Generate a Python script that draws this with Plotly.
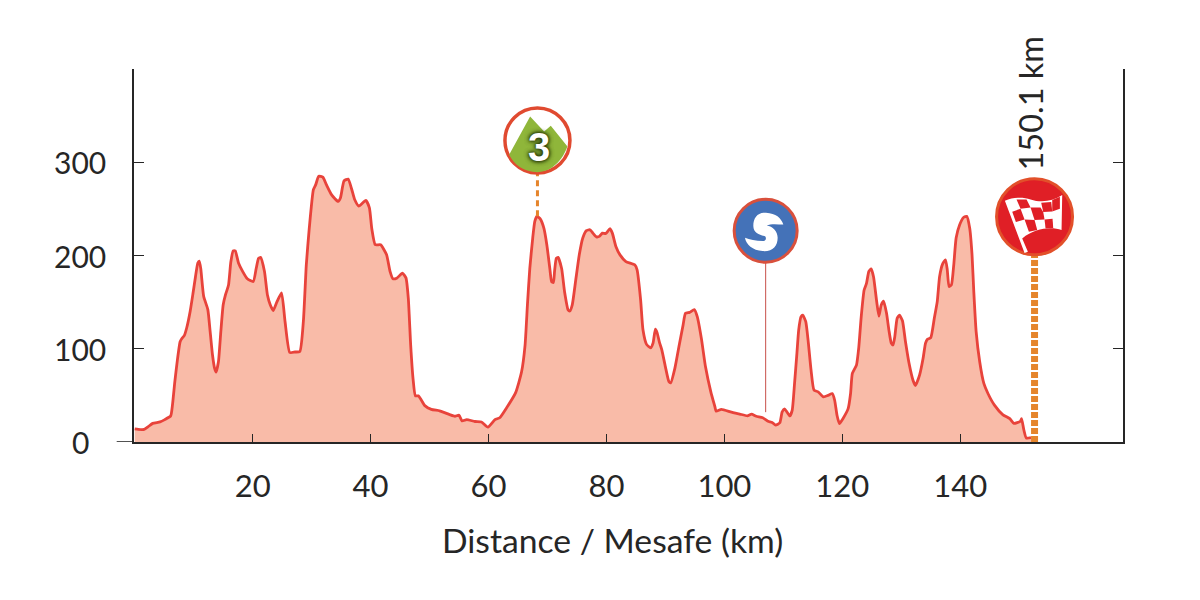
"""Stage elevation profile with climb, sprint and finish markers."""
import plotly.graph_objects as go

# profile
km = [0.0, 0.6, 1.6, 2.3, 3.05, 4.3, 5.1, 6.1, 6.4, 6.8, 7.2, 7.7, 8.0, 8.4, 8.8, 9.4, 9.9, 10.3, 10.7, 10.95,
      11.2, 11.7, 12.4, 12.8, 13.2, 13.55, 13.8, 14.2, 14.6, 15.0, 15.4, 15.9, 16.3, 16.7, 17.05, 17.6, 18.3, 19.1,
      20.1, 20.6, 21.0, 21.35, 22.0, 22.5, 23.0, 23.5, 24.1, 24.9, 25.5, 26.3, 27.2, 28.0, 28.6, 29.1, 29.6, 30.3,
      30.7, 31.2, 31.9, 32.5, 33.4, 34.5, 34.9, 35.5, 36.2, 36.8, 37.3, 38.0, 39.2, 39.8, 40.2, 40.8, 41.7, 42.7,
      43.3, 43.8, 44.5, 45.4, 46.0, 46.4, 46.8, 47.2, 47.6, 48.1, 48.6, 49.2, 50.3, 51.7, 53.4, 54.3, 55.0, 55.5,
      56.3, 57.7, 58.8, 59.9, 61.1, 61.9, 63.0, 64.6, 65.6, 66.2, 66.6, 67.0, 67.5, 67.85, 68.2, 68.8, 69.4, 69.9,
      70.4, 70.7, 71.0, 71.2, 71.5, 71.8, 72.4, 72.9, 73.5, 73.8, 74.2, 74.8, 75.4, 76.0, 76.6, 77.2, 77.7, 78.3,
      78.8, 79.3, 79.9, 80.6, 81.0, 81.6, 82.3, 83.3, 84.8, 85.2, 85.8, 86.2, 86.8, 87.5, 87.9, 88.3, 88.6, 89.0,
      89.4, 90.0, 90.6, 90.9, 91.6, 92.4, 93.0, 93.4, 94.1, 94.9, 95.4, 96.1, 96.8, 97.7, 98.4, 98.6, 99.5, 101.2,
      102.6, 103.9, 104.6, 105.4, 106.5, 107.4, 108.1, 108.7, 109.4, 109.8, 110.2, 110.6, 111.1, 111.5, 111.9,
      112.3, 112.6, 113.0, 113.3, 113.8, 114.2, 114.7, 115.2, 115.9, 116.8, 117.6, 118.3, 118.7, 119.1, 119.5,
      120.1, 121.0, 121.4, 121.7, 122.4, 122.8, 123.2, 123.7, 124.1, 124.5, 124.9, 125.3, 125.8, 126.2, 126.6,
      127.0, 127.5, 127.9, 128.3, 128.6, 128.9, 129.3, 129.7, 130.2, 130.7, 131.3, 132.0, 132.4, 133.1, 133.7,
      134.1, 134.4, 135.0, 135.6, 136.1, 136.5, 137.0, 137.5, 137.8, 138.1, 138.5, 138.9, 139.3, 139.9, 140.6,
      141.1, 141.6, 142.0, 142.3, 142.7, 143.3, 144.0, 144.7, 145.8, 147.2, 148.4, 149.1, 150.2, 150.4, 150.8,
      151.2, 152.0]
elevation = [14, 13.5, 13.5, 16.5, 20, 21.5, 24, 28, 39.5, 64.5, 86, 107.5, 111, 114, 122, 140, 160, 177, 192, 194,
             186, 156, 142, 118, 93, 79, 75, 86, 118, 147, 158, 168, 193, 205, 205, 192, 183, 175,
             172, 186, 197, 198, 183, 158, 147, 141, 150, 160, 129, 96, 96.5, 97, 129, 190, 229, 270.6,
             276, 285, 284, 276, 265, 258, 262, 280, 282, 271, 260, 253, 259, 251, 229, 211.5, 211.5, 201,
             183, 175, 176, 181, 176, 154, 104, 68, 49.5, 49.5, 45, 39, 35, 33.4, 29.4, 27.6, 28.7, 22.6,
             24, 22, 21.5, 16, 24, 26, 36, 53, 75, 104, 147, 186, 219, 236.6, 242, 239, 229, 211,
             186, 172, 171, 183, 197, 198, 186, 161, 141.6, 140.5, 147, 174, 201, 219, 226.6, 227.6, 224, 220,
             220.5, 224, 223.6, 228.7, 224, 209.7, 200.7, 193.5, 190, 184.6, 152, 120, 104.7, 101, 106, 121, 117, 106.6,
             98.6, 80.6, 64.6, 63.4, 79, 106, 125.5, 138, 139, 142, 134.4, 111, 80.6, 53.8, 37.6, 33, 35, 32,
             30, 28, 29.8, 27.6, 26, 22.3, 21, 18, 20.6, 32.4, 35.5, 32.4, 28, 34, 62.8,
             95, 120, 134.4, 136, 129, 109, 77, 55.6, 53.8, 48.4, 50, 52, 44.8, 28.7, 19.8,
             25, 36, 52, 73.5, 82.5, 102, 134, 163, 170, 183, 185.7, 177, 152, 135, 147,
             151, 138, 120, 106, 104, 113, 132.7, 136, 130, 108, 85, 66, 60.6, 71.7, 89.7,
             105.8, 110, 112, 132.7, 150.5, 177.4, 190.7, 195.4, 184.6, 166.7, 168.5, 190, 218.7, 233, 241,
             242, 229.5, 200.7, 161, 118, 86, 62.8, 52, 39.5, 29.4, 25, 20, 22.3, 25, 12.6,
             4.3, 4.7]

x_ticks = [20, 40, 60, 80, 100, 120, 140]
y_ticks = [0, 100, 200, 300]
distance_label = "150.1 km"
x_title = "Distance / Mesafe (km)"

# marker positions: km, stem foot/top, circle centre
climb = (68.3, 242, 323.3)
sprint = (107.0, 32, 226.5)
finish = (152.6, 0, 241.6)

FONT = "Lato"
INK = "#262626"
FILL = "#f9bba8"
RED = "#e8433b"
ORANGE = "#e5852c"


def icon(d, origin, km_pos, elev, fill):
    """Path drawn in 3x zoom pixels around origin, pinned to a data point."""
    parts = []
    for seg in d.split(" "):
        if seg.isalpha():
            parts.append(seg)
        else:
            px, py = seg.split(",")
            parts.append(f"{(float(px) - origin[0]) / 3:.2f},{(origin[1] - float(py)) / 3:.2f}")
    return dict(type="path", path=" ".join(parts), xsizemode="pixel", ysizemode="pixel", xanchor=km_pos, yanchor=elev,
                xref="x", yref="y", fillcolor=fill, line=dict(width=0), layer="above")


fig = go.Figure()
fig.add_trace(go.Scatter(x=km, y=elevation, mode="lines", fill="tozeroy", fillcolor=FILL,
                         line=dict(color=RED, width=2.8, shape="spline", smoothing=0.5)))
fig.add_trace(go.Scatter(x=[climb[0], climb[0]], y=[climb[1], climb[2]], mode="lines",
                         line=dict(color=ORANGE, width=3, dash="6px,4px")))
fig.add_trace(go.Scatter(x=[sprint[0], sprint[0]], y=[sprint[1], sprint[2]], mode="lines",
                         line=dict(color="#c8504a", width=1)))
fig.add_trace(go.Scatter(x=[finish[0], finish[0]], y=[finish[1], finish[2]], mode="lines",
                         line=dict(color=ORANGE, width=7, dash="6px,2px")))
fig.add_trace(go.Scatter(x=[climb[0]], y=[climb[2]], mode="markers",
                         marker=dict(size=65, color="white", line=dict(color="#e04a30", width=3.5))))
fig.add_trace(go.Scatter(x=[sprint[0]], y=[sprint[2]], mode="markers",
                         marker=dict(size=63, color="#4472b8", line=dict(color="#d9503c", width=3))))
fig.add_trace(go.Scatter(x=[finish[0]], y=[finish[2]], mode="markers",
                         marker=dict(size=76, color="#e01f26", line=dict(color="#e2502a", width=3))))

shapes = [
    # baseline runs past the left axis
    dict(type="line", xref="paper", yref="y", x0=-0.0175, x1=0, y0=0, y1=0, line=dict(color=INK, width=1.6)),
    # mountain
    icon("M 90,195 L 153,80 L 195,125 L 215,108 L 265,170 C 245,225 205,247 175,247 C 135,247 105,225 90,195 Z",
         (175, 152), climb[0], climb[2], "#8fb63a"),
    # sprint S
    icon("M 912,405 C 905,385 890,372 860,370 C 835,368 822,385 822,410 C 822,430 840,437 855,440 "
         "C 862,442 862,455 850,455 C 830,455 810,450 797,445 C 800,465 820,483 850,485 "
         "C 880,487 895,470 895,445 C 895,425 880,410 862,408 C 875,402 895,405 912,405 Z",
         (859, 424), sprint[0], sprint[2], "white"),
    # finish flag
    icon("M 33,72 C 60,60 90,62 110,68 C 140,78 175,75 205,55 L 203,160 C 175,150 125,152 85,185 "
         "L 102,225 L 92,229 Z", (122, 120), finish[0], finish[2], "white"),
]
for quad in [
    "M 68,68 L 98,68 L 110,92 L 80,96 Z",
    "M 142,78 L 172,76 L 175,104 L 148,106 Z",
    "M 110,92 L 140,92 L 148,106 L 152,128 L 122,130 Z",
    "M 55,105 L 80,96 L 92,128 L 66,136 Z",
    "M 175,70 L 198,60 L 198,96 L 175,104 Z",
    "M 92,128 L 122,130 L 130,160 L 105,165 Z",
    "M 152,128 L 176,126 L 178,154 L 155,155 Z",
]:
    shapes.append(icon(quad, (122, 120), finish[0], finish[2], "#e01f26"))

annotations = [
    dict(x=climb[0], y=climb[2], xref="x", yref="y", text="3", showarrow=False, yshift=-6, xshift=1.5,
         font=dict(family="Liberation Sans", size=40, color="white", weight="bold",
                   shadow="0 0 5px #2c3f08, 0 0 5px #2c3f08, 0 0 3px #2c3f08")),
    dict(x=finish[0], y=289, xref="x", yref="y", text=distance_label, showarrow=False, textangle=-90,
         yanchor="bottom", xshift=-5, font=dict(family=FONT, size=32.5, color=INK)),
    dict(x=(612.5 - 134) / 989.5, y=(441.7 - 540) / 372.7, xref="paper", yref="paper", text=x_title, showarrow=False,
         xanchor="center", yanchor="middle", font=dict(family=FONT, size=33.7, color=INK)),
]
for v in y_ticks:
    annotations.append(dict(x=(80 - 134) / 989.5, y=v, xref="paper", yref="y", text=str(v), showarrow=False,
                            xanchor="center", font=dict(family=FONT, size=30, color=INK)))

# page body adds 8px around the figure, so the figure is kept 16px short of the window
fig.update_layout(
    width=1184, height=584, showlegend=False, plot_bgcolor="white", paper_bgcolor="white",
    margin=dict(l=126, r=68.5, t=61, b=150.3, autoexpand=False),
    shapes=shapes, annotations=annotations,
)
fig.update_xaxes(range=[-0.12, 167.6], tickvals=x_ticks, ticks="inside", ticklen=8, tickwidth=1.4, tickcolor=INK,
                 showgrid=False, zeroline=False, showline=True, linecolor=INK, linewidth=1.6,
                 tickfont=dict(family=FONT, size=31, color=INK), ticklabelstandoff=16)
fig.update_yaxes(range=[0, 400], tickvals=[100, 200, 300], ticks="inside", ticklen=10, tickwidth=1.4, tickcolor=INK,
                 showticklabels=False, showgrid=False, zeroline=False, showline=True, linecolor=INK, linewidth=1.6,
                 mirror="ticks")
fig.write_html("out.html")
